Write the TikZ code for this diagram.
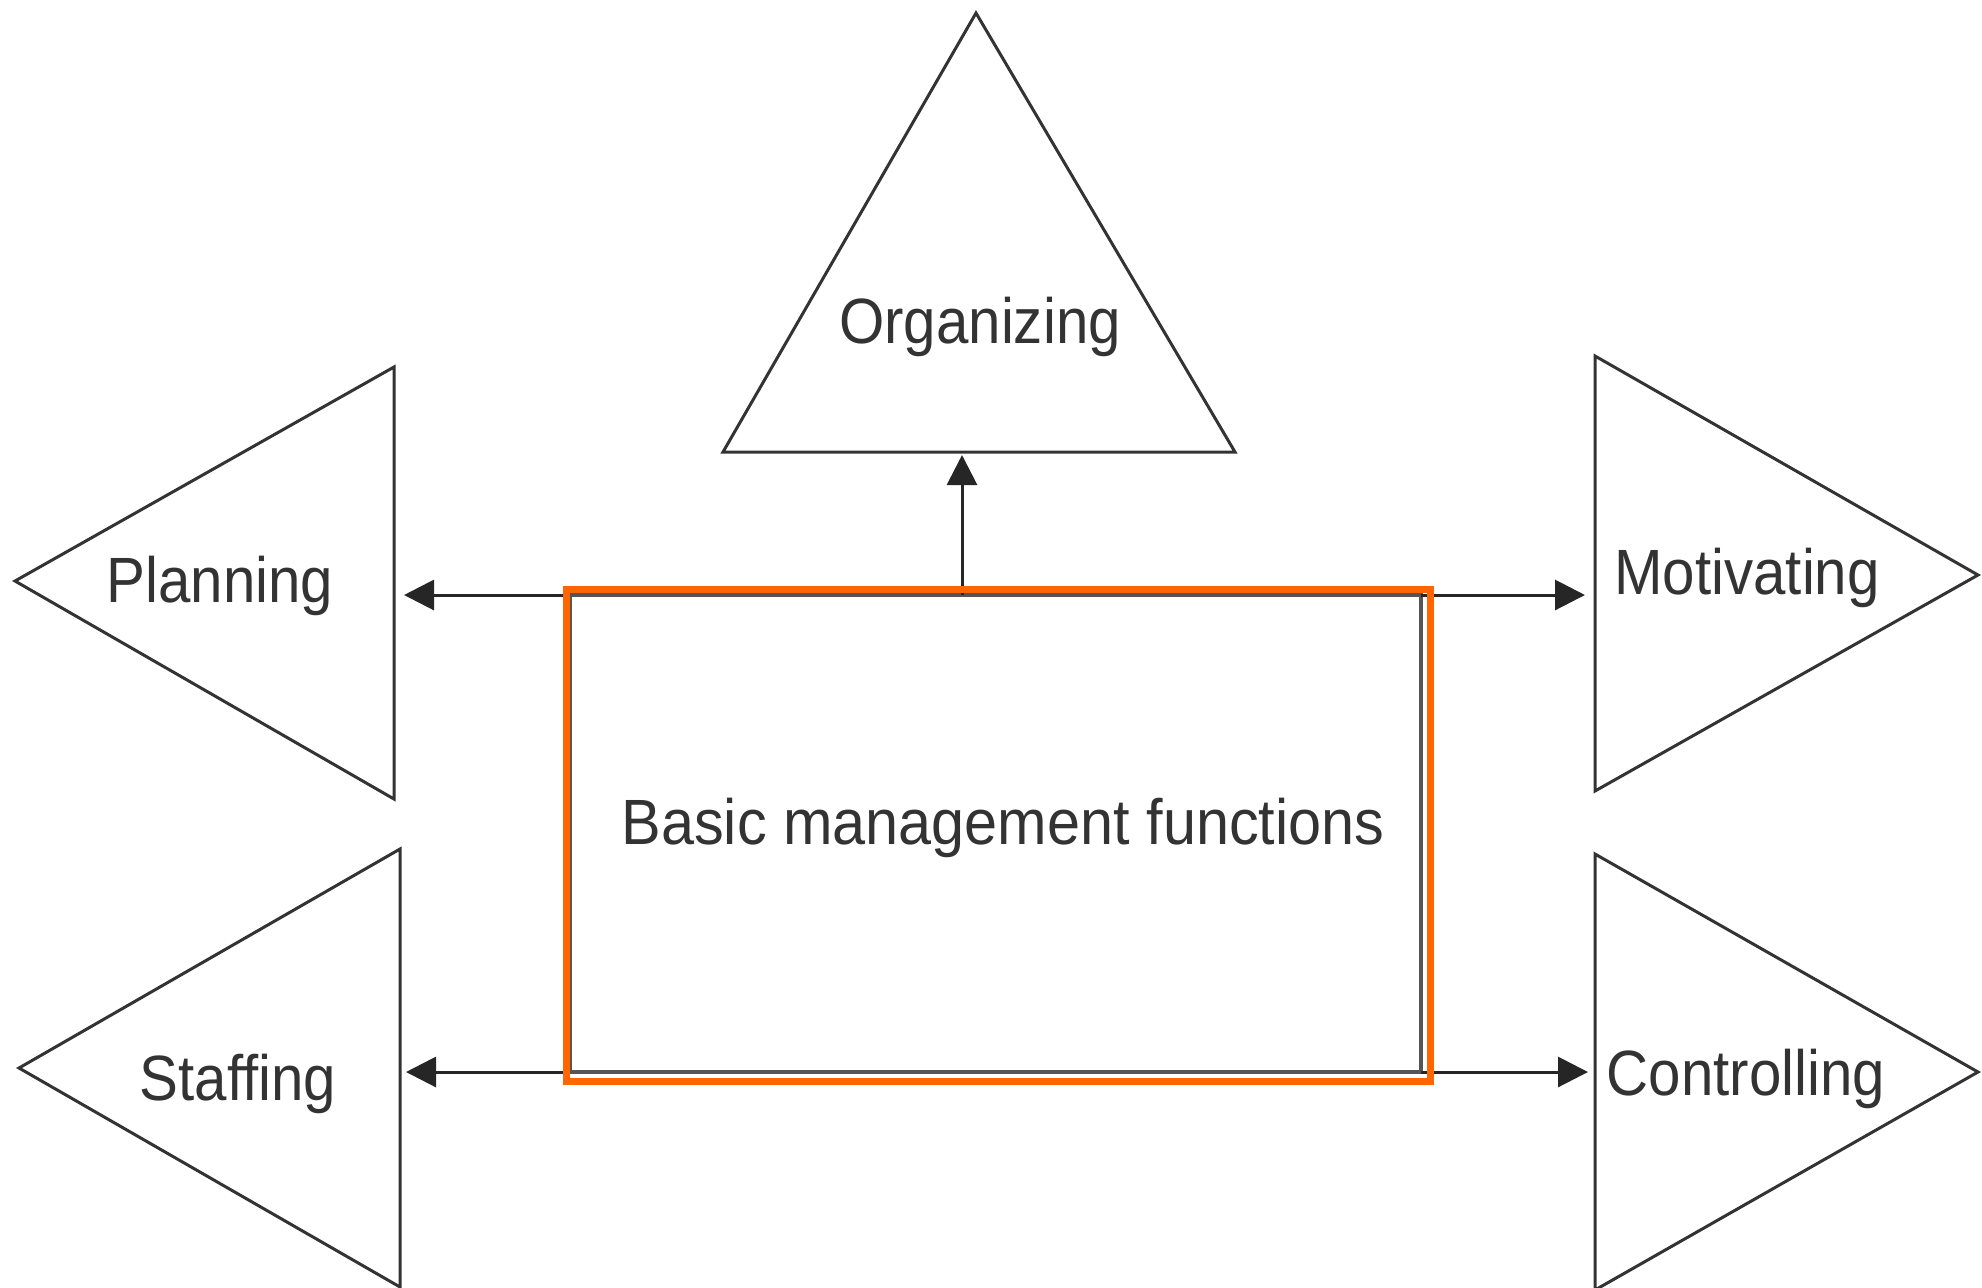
\documentclass[tikz,border=0pt]{standalone}
\usepackage{fontspec}
\setmainfont{Liberation Sans}[FakeStretch=0.91]
\usetikzlibrary{arrows.meta}
\definecolor{boxorange}{HTML}{FF6600}
\definecolor{edgegray}{HTML}{333333}
\definecolor{innergray}{HTML}{555555}

\begin{document}
\begin{tikzpicture}[x=0.5pt,y=-0.5pt,
  tri/.style={draw=edgegray,line width=1.5pt},
  fnlabel/.style={font=\fontsize{32}{38}\selectfont,text=edgegray,anchor=base,inner sep=0pt},
  link/.style={draw=black!85,line width=1.5pt,-{Triangle[length=15pt,width=15pt]}}]
  \useasboundingbox (0,0) rectangle (1982,1287);
  % the five function triangles
  \draw[tri] (976,13) -- (1235,452) -- (723,452) -- cycle;
  \draw[tri] (15,581) -- (394,367) -- (394,799) -- cycle;
  \draw[tri] (19,1068) -- (400,849) -- (400,1287) -- cycle;
  \draw[tri] (1978,575) -- (1595,356) -- (1595,791) -- cycle;
  \draw[tri] (1978,1072) -- (1595,854) -- (1595,1290) -- cycle;
  \node[fnlabel] (organizing) at (980,343) {Organizing};
  \node[fnlabel] (planning) at (220,602) {Planning};
  \node[fnlabel] (motivating) at (1747,594) {Motivating};
  \node[fnlabel] (staffing) at (238,1100) {Staffing};
  \node[fnlabel] (controlling) at (1746,1095) {Controlling};
  % where the arrows meet the triangles
  \coordinate (orgbase) at (962,455);
  \coordinate (planedge) at (404,595);
  \coordinate (motedge) at (1585,595);
  \coordinate (staffedge) at (406,1072);
  \coordinate (ctrledge) at (1588,1072);
  % centre box
  \node[draw=innergray,line width=2pt,outer sep=0pt,minimum width=425.5pt,minimum height=238.5pt,inner sep=0pt] (inner) at (995.5,833.5) {};
  \node[fnlabel,xscale=1.02] (basic) at (1003,844) {Basic management functions};
  \draw[link] (inner.north west) -- (planedge);
  \draw[link] (orgbase |- inner.north) -- (orgbase);
  \draw[link] (inner.north east) -- (motedge);
  \draw[link] (inner.south west) -- (staffedge);
  \draw[link] (inner.south east) -- (ctrledge);
  \node[draw=boxorange,line width=3.5pt,outer sep=0pt,minimum width=432pt,minimum height=246pt,inner sep=0pt] (outer) at (998,835) {};
\end{tikzpicture}
\end{document}
